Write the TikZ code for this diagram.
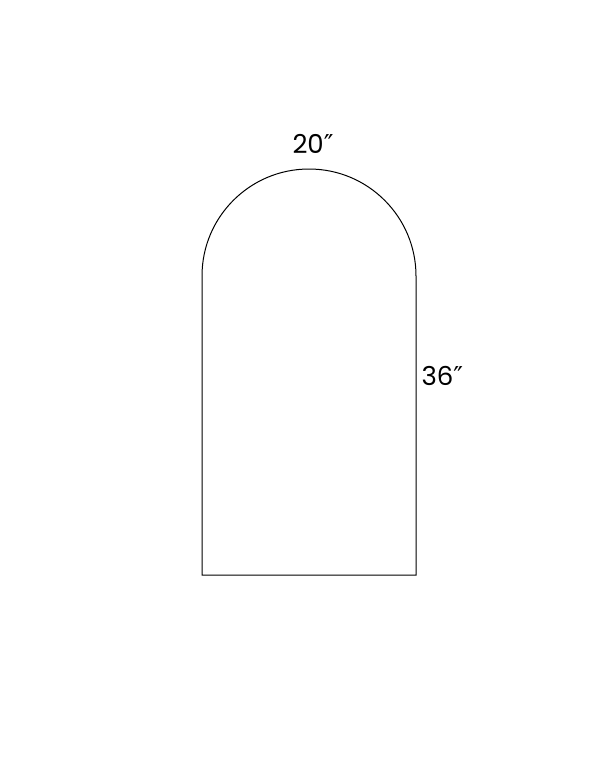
\documentclass[tikz,border=0pt]{standalone}
\usepackage{fontspec}
\setmainfont{Poppins}
\newfontfamily\primefont{DejaVu Sans}
\newcommand{\inch}{{\primefont ″}}
\tikzset{>=stealth}

\begin{document}
\begin{tikzpicture}[x=1pt,y=-1pt]
\useasboundingbox (0,0) rectangle (609,757);
\coordinate (A) at (202,575);
\coordinate (B) at (416,575);
\coordinate (C) at (416,276);
\coordinate (D) at (202,276);
\draw[line width=1pt] (A) -- (B) -- (C) arc (0:180:107 and -107) -- cycle;
\node (W) at (313,144) {\fontsize{26}{30}\selectfont 20\inch};
\node[anchor=west] (H) at (418,376) {\fontsize{26}{30}\selectfont 36\inch};
\end{tikzpicture}
\end{document}
